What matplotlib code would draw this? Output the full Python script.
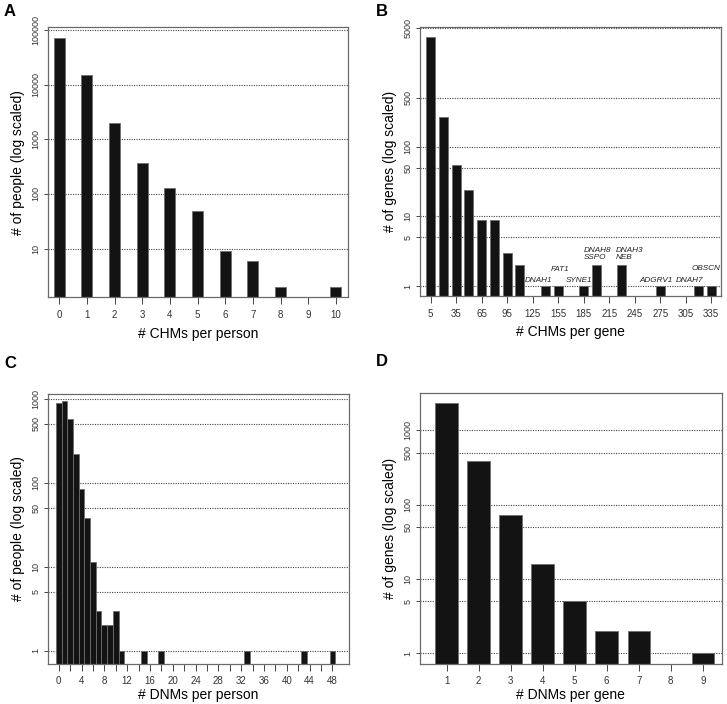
import matplotlib
matplotlib.use("Agg")
import matplotlib.pyplot as plt
import numpy as np

plt.rcParams['font.family'] = ['Liberation Sans', 'DejaVu Sans']

# ---------------- data ----------------
chm_person_x = [0, 1, 2, 3, 4, 5, 6, 7, 8, 9, 10]
chm_person_n = [72000, 14800, 2000, 365, 127, 49, 9, 6, 2, 0, 2]

chm_gene_x = [5, 20, 35, 50, 65, 80, 95, 110, 125, 140, 155, 170, 185, 200,
              215, 230, 245, 260, 275, 290, 305, 320, 335]
chm_gene_n = [3800, 270, 54, 24, 9, 9, 3, 2, 0, 1, 1, 0, 1, 2,
              0, 2, 0, 0, 1, 0, 0, 1, 1]
chm_gene_ticks = [5, 35, 65, 95, 125, 155, 185, 215, 245, 275, 305, 335]
gene_labels = ["DNAH1", "FAT1", "SYNE1", "DNAH8\nSSPO", "DNAH3\nNEB",
               "ADGRV1", "DNAH7", "OBSCN"]
gene_label_x = [132, 157, 179.5, 201.5, 239.5, 270.5, 310, 329]
gene_label_y = [1.22, 1.74, 1.22, 2.92, 2.92, 1.22, 1.22, 1.78]

dnm_person_x = list(range(0, 49))
dnm_person_n = [880, 950, 580, 217, 85, 38, 11.3, 3, 2, 2, 3, 1, 0, 0, 0, 1,
                0, 0, 1] + [0] * 14 + [1] + [0] * 9 + [1] + [0] * 4 + [1]
dnm_person_ticks = list(range(0, 50, 2))

dnm_gene_x = [1, 2, 3, 4, 5, 6, 7, 8, 9]
dnm_gene_n = [2330, 387, 72, 16, 5, 2, 2, 0, 1]

FACE = '#131313'
EDGE = '#6e6e6e'
SPINE = '#6a6a6a'

fig = plt.figure(figsize=(7.27, 7.04), dpi=100)

def style(ax, yticks, ylim, xlim):
    ax.set_yscale('log')
    ax.set_ylim(*ylim)
    ax.set_xlim(*xlim)
    ax.set_yticks(yticks)
    ax.set_yticklabels([str(t) for t in yticks], rotation=90, va='center',
                       fontsize=6.5, color='#333333')
    ax.yaxis.set_minor_locator(matplotlib.ticker.NullLocator())
    for t in yticks:
        ax.axhline(t, color='#444444', lw=0.8, ls=(0, (1, 1.2)), zorder=0.5)
    for s in ax.spines.values():
        s.set_color(SPINE)
        s.set_linewidth(0.9)
    ax.tick_params(axis='y', length=3, width=0.7, color='#444444', pad=2)
    ax.tick_params(axis='x', length=5, width=0.7, color='#444444',
                   labelsize=7, labelcolor='#333333', pad=4)

LABEL_FS = 10

# Panel A
axA = fig.add_axes([0.0656, 0.578, 0.4131, 0.3835])
axA.bar(chm_person_x, chm_person_n, width=0.4, color=FACE, edgecolor=EDGE,
        lw=0.6, zorder=2)
style(axA, [10, 100, 1000, 10000, 100000], (1.3, 112000), (-0.42, 10.44))
axA.set_xticks(chm_person_x)
axA.set_xlabel('# CHMs per person', fontsize=LABEL_FS, labelpad=5)
axA.set_ylabel('# of people (log scaled)', fontsize=LABEL_FS, labelpad=5)

# Panel B
axB = fig.add_axes([0.5773, 0.5795, 0.4149, 0.3826])
axB.bar(chm_gene_x, chm_gene_n, width=10.8, color=FACE, edgecolor=EDGE,
        lw=0.6, zorder=2)
style(axB, [1, 5, 10, 50, 100, 500, 5000], (0.72, 5270), (-7.9, 347))
axB.set_xticks(chm_gene_ticks)
axB.set_xlabel('# CHMs per gene', fontsize=LABEL_FS, labelpad=5)
axB.set_ylabel('# of genes (log scaled)', fontsize=LABEL_FS, labelpad=5)
for lab, x, y in zip(gene_labels, gene_label_x, gene_label_y):
    axB.text(x, y, lab, fontsize=5.9, style='italic', ha='center',
             va='center', multialignment='left', color='#222222',
             linespacing=1.05, zorder=3)

# Panel C
axC = fig.add_axes([0.0656, 0.0573, 0.4144, 0.3835])
axC.bar(dnm_person_x, dnm_person_n, width=1.0, color=FACE, edgecolor=EDGE,
        lw=0.6, zorder=2)
style(axC, [1, 5, 10, 50, 100, 500, 1000], (0.7, 1147), (-1.93, 50.9))
axC.set_xticks(dnm_person_ticks)
axC.set_xticklabels([str(t) if t % 4 == 0 else '' for t in dnm_person_ticks])
axC.set_xlabel('# DNMs per person', fontsize=LABEL_FS, labelpad=1)
axC.set_ylabel('# of people (log scaled)', fontsize=LABEL_FS, labelpad=5)

# Panel D
axD = fig.add_axes([0.5773, 0.0573, 0.4158, 0.3845])
axD.bar(dnm_gene_x, dnm_gene_n, width=0.7, color=FACE, edgecolor=EDGE,
        lw=0.6, zorder=2)
style(axD, [1, 5, 10, 50, 100, 500, 1000], (0.726, 3180), (0.16, 9.6))
axD.set_xticks(dnm_gene_x)
axD.set_xlabel('# DNMs per gene', fontsize=LABEL_FS, labelpad=1)
axD.set_ylabel('# of genes (log scaled)', fontsize=LABEL_FS, labelpad=5)

for lab, x, y in [('A', 4, 11), ('B', 376, 11), ('C', 4, 363), ('D', 376, 362)]:
    fig.text(x / 727, 1 - y / 704, lab, fontsize=12, fontweight='bold',
             ha='left', va='center')

fig.savefig('out.png', dpi=100)
